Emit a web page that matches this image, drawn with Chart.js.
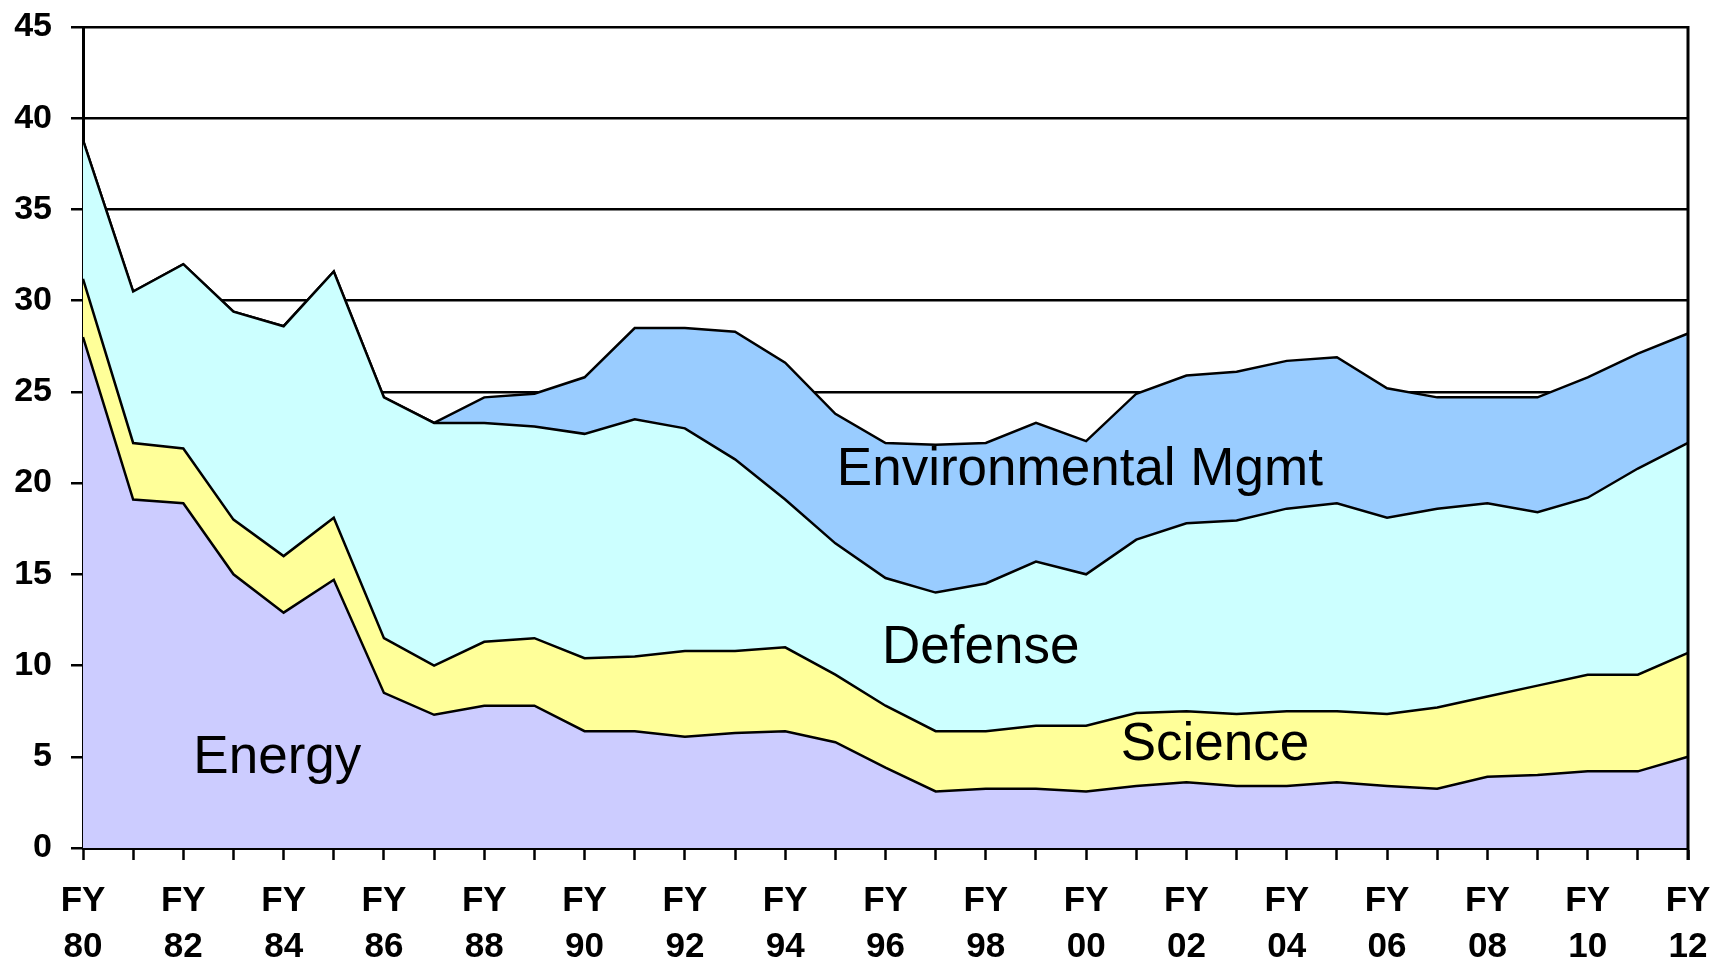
<!DOCTYPE html>
<html>
<head>
<meta charset="utf-8">
<title>DOE budget by program, FY80-FY12</title>
<script src="https://cdn.jsdelivr.net/npm/chart.js@4"></script>
<style>
  html, body { margin: 0; padding: 0; background: #ffffff; }
  #chart { display: block; }
</style>
</head>
<body>
<canvas id="chart" width="1719" height="968"></canvas>
<script>
// fiscal years (two digits), one point per year
var years = ['80','81','82','83','84','85','86','87','88','89','90','91','92','93','94','95','96',
             '97','98','99','00','01','02','03','04','05','06','07','08','09','10','11','12'];

// stacked values
var energy  = [28.0,19.1,18.9,15.0,12.9,14.7,8.5,7.3,7.8,7.8,6.4,6.4,6.1,6.3,6.4,5.8,4.4,3.1,3.25,3.25,
               3.1,3.4,3.6,3.4,3.4,3.6,3.4,3.25,3.9,4.0,4.2,4.2,5.0];
var science = [3.2,3.1,3.0,3.0,3.1,3.4,3.0,2.7,3.5,3.7,4.0,4.1,4.7,4.5,4.6,3.7,3.4,3.3,3.15,3.45,
               3.6,4.0,3.9,3.95,4.1,3.9,3.95,4.45,4.4,4.9,5.3,5.3,5.7];
var defense = [7.6,8.3,10.1,11.4,12.6,13.5,13.2,13.3,12.0,11.6,12.3,13.0,12.2,10.5,8.1,7.2,7.0,7.6,8.1,9.0,
               8.3,9.5,10.3,10.6,11.1,11.4,10.75,10.9,10.6,9.5,9.7,11.3,11.5];
var envMgmt = [0,0,0,0,0,0,0,0,1.4,1.8,3.1,5.0,5.5,7.0,7.5,7.1,7.4,8.1,7.7,7.6,
               7.3,8.0,8.1,8.15,8.1,8.0,7.1,6.1,5.8,6.3,6.6,6.3,6.0];

var yTicks = [0, 5, 10, 15, 20, 25, 30, 35, 40, 45];

// area names, anchored at (year index, value) of their left baseline
var areaLabels = [
    { text: 'Energy', x: 2.2, y: 4.1 },
    { text: 'Science', x: 20.69, y: 4.82 },
    { text: 'Defense', x: 15.93, y: 10.14 },
    { text: 'Environmental Mgmt', x: 15.03, y: 19.9 }
];

var fontFamily = "'Liberation Sans', Arial, Helvetica, sans-serif";

function areaSet(label, data, color, fill) {
    return {
        label: label,
        data: data,
        backgroundColor: color,
        borderColor: '#000000',
        borderWidth: 2.5,
        fill: fill,
        tension: 0,
        pointRadius: 0,
        pointHoverRadius: 0
    };
}

// right frame line and the area names
var framePlugin = {
    id: 'frame',
    afterDatasetsDraw: function (chart) {
        var ctx = chart.ctx;
        var area = chart.chartArea;
        var xs = chart.scales.x;
        var ys = chart.scales.y;
        ctx.save();
        ctx.fillStyle = '#000000';
        ctx.font = '53px ' + fontFamily;
        ctx.textAlign = 'left';
        ctx.textBaseline = 'alphabetic';
        for (var i = 0; i < areaLabels.length; i++) {
            var l = areaLabels[i];
            ctx.fillText(l.text, xs.getPixelForValue(l.x), ys.getPixelForValue(l.y));
        }
        ctx.strokeStyle = '#000000';
        ctx.lineWidth = 3;
        ctx.beginPath();
        ctx.moveTo(area.right, area.top - 1);
        ctx.lineTo(area.right, area.bottom + 12);
        ctx.stroke();
        ctx.restore();
    }
};

var config = {
    type: 'line',
    data: {
        labels: years,
        datasets: [
            areaSet('Energy', energy, '#CCCCFF', 'origin'),
            areaSet('Science', science, '#FFFF99', '-1'),
            areaSet('Defense', defense, '#CCFFFF', '-1'),
            areaSet('Environmental Mgmt', envMgmt, '#99CCFF', '-1')
        ]
    },
    options: {
        responsive: false,
        animation: false,
        layout: { padding: { left: 0, right: 31, top: 27, bottom: 0 } },
        plugins: {
            legend: { display: false },
            tooltip: { enabled: false },
            title: { display: false }
        },
        scales: {
            x: {
                type: 'category',
                offset: false,
                grid: {
                    drawOnChartArea: false,
                    drawTicks: true,
                    tickLength: 12,
                    tickColor: '#000000',
                    tickWidth: 2.5
                },
                border: { display: true, color: '#000000', width: 3 },
                ticks: {
                    autoSkip: false,
                    maxRotation: 0,
                    minRotation: 0,
                    padding: 19,
                    color: '#000000',
                    font: { family: fontFamily, size: 35, weight: 'bold', lineHeight: 1.3 },
                    callback: function (value, index) {
                        if (index % 2 !== 0) return '';
                        return ['FY', this.getLabelForValue(value)];
                    }
                },
                afterFit: function (scale) {
                    scale.height = 120;
                    scale.paddingLeft = 0;
                    scale.paddingRight = 0;
                }
            },
            y: {
                stacked: true,
                min: 0,
                max: 45,
                afterBuildTicks: function (scale) {
                    scale.ticks = yTicks.map(function (v) { return { value: v }; });
                },
                grid: {
                    color: '#000000',
                    lineWidth: 2.5,
                    drawTicks: true,
                    tickLength: 12,
                    tickColor: '#000000'
                },
                border: { display: true, color: '#000000', width: 3 },
                ticks: {
                    padding: 19,
                    color: '#000000',
                    font: { family: fontFamily, size: 34, weight: 'bold' }
                },
                afterFit: function (scale) {
                    scale.width = 83;
                    scale.paddingTop = 0;
                    scale.paddingBottom = 0;
                }
            }
        }
    },
    plugins: [framePlugin]
};

var ctx = document.getElementById('chart').getContext('2d');
window.budgetChart = new Chart(ctx, config);
</script>
</body>
</html>
